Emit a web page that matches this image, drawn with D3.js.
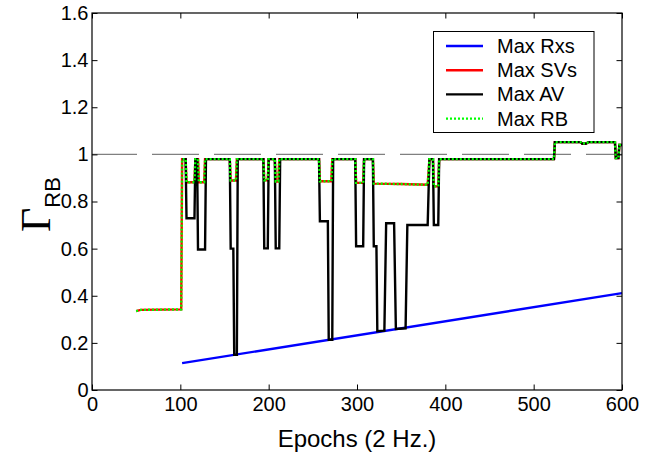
<!DOCTYPE html>
<html><head><meta charset="utf-8">
<script src="https://cdn.jsdelivr.net/npm/d3@7"></script>
<style>
html,body{margin:0;padding:0;background:#fff;}
svg text{font-family:"Liberation Sans",Arial,sans-serif;}
</style></head>
<body><svg id="c" width="655" height="454"></svg>
<script>
// ---- data (epoch, value) ----
const xTicks = [0,100,200,300,400,500,600];
const yTicks = [0,0.2,0.4,0.6,0.8,1,1.2,1.4,1.6];
const seriesNames = ["Max Rxs","Max SVs","Max AV","Max RB"];
const refLevel = 1;

const maxRxs = [[102,0.114],[600,0.411]];

const maxSVs = [[50,0.335],[55,0.34],[101,0.342],[102,0.98],[106,0.98],[107,0.882],[116,0.882],[117,0.98],
 [120,0.98],[121,0.882],[127,0.882],[128,0.98],[156,0.98],[157,0.889],[163,0.889],[164,0.98],
 [194,0.98],[195,0.89],[199,0.89],[200,0.98],[207,0.98],[208,0.885],[211,0.885],[212,0.98],
 [257,0.98],[258,0.886],[271,0.886],[272,0.98],[298,0.98],[299,0.879],[307,0.879],[308,0.98],
 [318,0.98],[319,0.876],[350,0.874],[380,0.871],[382,0.98],[386,0.98],[387,0.864],[392,0.864],[393,0.98],
 [523,0.98],[524,1.052],[553,1.052],[555,1.045],[557,1.047],[559,1.045],[562,1.052],[592,1.052],[593,0.984],[596,0.984],[597,1.04],[600,1.04]];

const maxAV = [[102,0.98],[106,0.98],[107,0.729],[116,0.729],[117,0.98],[119,0.98],[120,0.596],[128,0.596],[129,0.98],
 [156,0.98],[157,0.6],[160,0.6],[161,0.149],[164,0.149],[165,0.98],
 [194,0.98],[195,0.601],[199,0.601],[200,0.98],[207,0.98],[208,0.601],[212,0.601],[213,0.98],
 [257,0.98],[258,0.716],[267,0.716],[268,0.213],[272,0.213],[273,0.98],
 [298,0.98],[299,0.61],[307,0.61],[308,0.98],[318,0.98],[319,0.61],[322,0.61],[323,0.25],[331,0.252],
 [333,0.708],[342,0.708],[344,0.259],[355,0.262],[357,0.70],[380,0.70],[382,0.98],[386,0.98],
 [387,0.70],[392,0.70],[393,0.98],
 [523,0.98],[524,1.052],[553,1.052],[555,1.045],[557,1.047],[559,1.045],[562,1.052],[592,1.052],[593,0.984],[596,0.984],[597,1.04],[600,1.04]];

// Max RB follows the same path as Max SVs in the picture
const maxRB = maxSVs;

// ---- drawing ----
const svg = d3.select("#c");
const x = d3.scaleLinear().domain([0,600]).range([92,622]);
const y = d3.scaleLinear().domain([0,1.6]).range([390,13]);
const line = d3.line().x(d=>x(d[0])).y(d=>y(d[1]));

// reference dashed line
svg.append("line").attr("x1",x(0)).attr("x2",x(600)).attr("y1",y(refLevel)).attr("y2",y(refLevel))
  .attr("stroke","#808080").attr("stroke-width",1.3).attr("stroke-dasharray","47,15").attr("stroke-dashoffset",2);

const styles = [
  {data:maxRxs,color:"#0000ff",dash:null},
  {data:maxSVs,color:"#ff0000",dash:null},
  {data:maxAV,color:"#000000",dash:null},
  {data:maxRB,color:"#00ff00",dash:"2,2"}
];
styles.forEach(s=>{
  svg.append("path").attr("d",line(s.data)).attr("fill","none").attr("stroke",s.color)
    .attr("stroke-width",2.4).attr("stroke-dasharray",s.dash);
});

// axes
const fs = 20;
const gx = svg.append("g").attr("transform","translate(0,390)")
  .call(d3.axisBottom(x).tickValues(xTicks).tickSizeInner(-5.5).tickSizeOuter(0).tickPadding(7).tickFormat(d3.format("d")));
const gy = svg.append("g").attr("transform","translate(92,0)")
  .call(d3.axisLeft(y).tickValues(yTicks).tickSizeInner(-5.5).tickSizeOuter(0).tickPadding(3.5).tickFormat(d=>String(+d.toFixed(1))));
const gr = svg.append("g").attr("transform","translate(622,0)")
  .call(d3.axisRight(y).tickValues(yTicks).tickSizeInner(-5.5).tickSizeOuter(0).tickFormat(""));
const gt = svg.append("g").attr("transform","translate(0,13)")
  .call(d3.axisTop(x).tickValues(xTicks).tickSizeInner(-5.5).tickSizeOuter(0).tickFormat(""));
[gx,gy,gr,gt].forEach(g=>{
  g.select(".domain").remove();
  g.selectAll("line").attr("stroke","#000").attr("stroke-width",1);
  g.selectAll("text").attr("font-size",fs).attr("fill","#000").attr("font-family","Liberation Sans, Arial, sans-serif");
});
svg.append("rect").attr("x",92).attr("y",13).attr("width",530).attr("height",377)
  .attr("fill","none").attr("stroke","#000").attr("stroke-width",1.2);

// axis titles
svg.append("text").attr("x",357).attr("y",447).attr("text-anchor","middle").attr("font-size",24).text("Epochs (2 Hz.)");
const yl = svg.append("text").attr("transform","translate(50,232) rotate(-90)").attr("text-anchor","start");
yl.append("tspan").attr("font-family","Liberation Serif, Times New Roman, serif").attr("font-size",42).text("Γ");
yl.append("tspan").attr("font-size",22).attr("dy",10).text("RB");

// legend
const lg = svg.append("g");
lg.append("rect").attr("x",433.5).attr("y",31.5).attr("width",160.5).attr("height",101)
  .attr("fill","#fff").attr("stroke","#000").attr("stroke-width",1);
styles.forEach((s,i)=>{
  const yy = 46 + i*24.2;
  lg.append("line").attr("x1",446).attr("x2",483).attr("y1",yy).attr("y2",yy)
    .attr("stroke",s.color).attr("stroke-width",2.4).attr("stroke-dasharray",s.dash);
  lg.append("text").attr("x",497).attr("y",yy).attr("dy","0.35em").attr("font-size",20).text(seriesNames[i]);
});
</script></body></html>
